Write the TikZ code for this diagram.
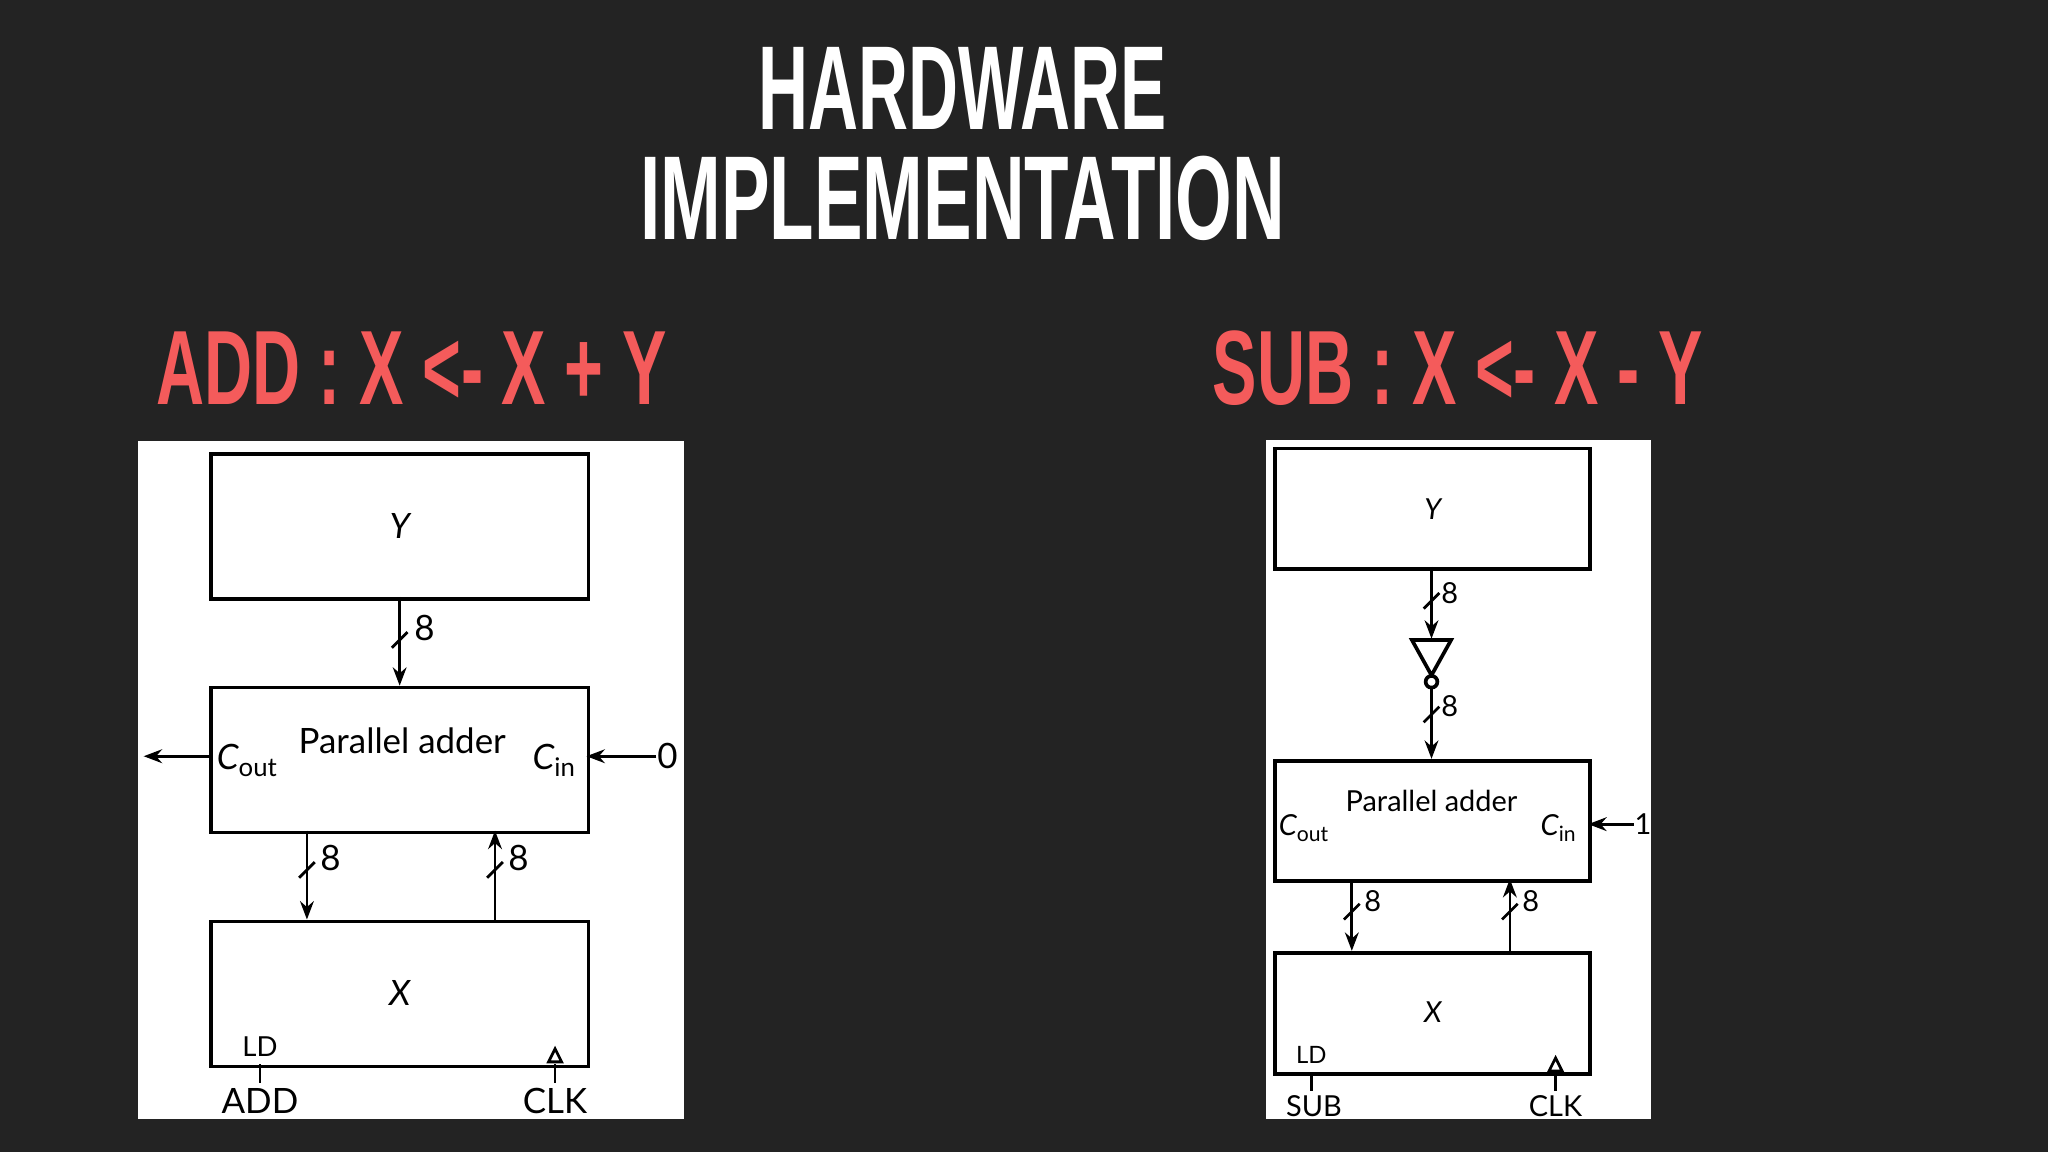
\documentclass[tikz,border=0pt]{standalone}
\usepackage{fontspec}
\setmainfont{Lato}
\newfontfamily\titlefont{Liberation Sans}
\usetikzlibrary{arrows.meta}
\definecolor{bg}{HTML}{232323}
\definecolor{hred}{HTML}{F45B5B}
\newcommand{\myCL}[1]{{\itshape C}\raisebox{-0.4ex}{\fontsize{5.6}{6}\selectfont #1}}
\newcommand{\myCR}[1]{{\itshape C}\raisebox{-0.4ex}{\fontsize{4.6}{5}\selectfont #1}}
\tikzset{
  box/.style={draw=black,line width=0.8pt,anchor=north west},
  wire/.style={draw=black,line width=0.6pt},
  arr/.style={wire,-{Stealth[length=4pt,width=3pt]}},
  slash/.style={wire},
  lblL/.style={font=\fontsize{7.6}{9}\selectfont,inner sep=0pt},
  lblR/.style={font=\fontsize{6.3}{8}\selectfont,inner sep=0pt},
  ttl/.style={text=white,inner sep=0pt,font=\titlefont\bfseries\fontsize{26}{28}\selectfont},
  red/.style={text=hred,inner sep=0pt,font=\titlefont\bfseries\fontsize{23}{26}\selectfont}
}
\begin{document}
\begin{tikzpicture}[x=0.01cm,y=-0.01cm]
\fill[bg] (0,0) rectangle (1568,882);
\useasboundingbox (0,0) rectangle (1568,882);
\node[ttl] (t1) at (737,68) {\scalebox{0.58}[1]{HARDWARE}};
\node[ttl] (t2) at (737,152) {\scalebox{0.61}[1]{IMPLEMENTATION}};
\node[red] (h1) at (315,282) {\scalebox{0.63}[1]{ADD : X <- X + Y}};
\node[red] (h2) at (1116,282) {\scalebox{0.63}[1]{SUB : X <- X - Y}};
% ---------- left panel
\fill[white] (106,338) rectangle (524,857);
\node[box,minimum width=2.89cm,minimum height=1.11cm] (y1) at (160,346) {};
\node[lblL] at (y1.center) {\itshape Y};
\node[box,minimum width=2.89cm,minimum height=1.11cm] (a1) at (160,525) {};
\node[lblL] at (308,567) {Parallel adder};
\node[lblL] at (189,582) {\myCL{out}};
\node[lblL] at (424,582) {\myCL{in}};
\node[box,minimum width=2.89cm,minimum height=1.11cm] (x1) at (160,704) {};
\node[lblL] at (306,760) {\itshape X};
\draw[arr] (306,457) -- (306,525);
\draw[slash] (300,496) -- (312,484); \node[lblL] at (325,481) {8};
\draw[arr] (160,579) -- (110,579);
\node[lblL] (z1) at (511,579) {0};
\draw[arr] (z1.west) -- (449,579);
\draw[arr] (235,636) -- (235,704);
\draw[slash] (229,672) -- (241,660); \node[lblL] at (253,657) {8};
\draw[arr] (379,704) -- (379,636);
\draw[slash] (373,672) -- (385,660); \node[lblL] at (397,657) {8};
\node[lblL,font=\fontsize{6}{8}\selectfont] at (199,801) {LD};
\draw[wire] (199,815) -- (199,829);
\node[lblL] at (199,843) {ADD};
\draw[wire] (425,815) -- (425,829);
\draw[wire,fill=white] (420,813) -- (425,803) -- (430,813) -- cycle;
\node[lblL] at (425,843) {CLK};
% ---------- right panel
\fill[white] (969,337) rectangle (1264,857);
\node[box,minimum width=2.41cm,minimum height=0.92cm] (y2) at (975,342) {};
\node[lblR] at (y2.center) {\itshape Y};
\draw[arr] (1096,434) -- (1096,489);
\draw[slash] (1090,466) -- (1102,454); \node[lblR] at (1110,454) {8};
\draw[wire,line width=0.8pt] (1081,490) -- (1111,490) -- (1096,517) -- cycle;
\draw[wire,fill=white,line width=0.8pt] (1096,522) circle (4.5);
\draw[arr] (1096,527) -- (1096,581);
\draw[slash] (1090,553) -- (1102,541); \node[lblR] at (1110,541) {8};
\node[box,minimum width=2.41cm,minimum height=0.92cm] (a2) at (975,581) {};
\node[lblR] at (1096,613) {Parallel adder};
\node[lblR] at (998,634) {\myCR{out}};
\node[lblR] at (1193,634) {\myCR{in}};
\node[lblR] (o2) at (1258,631) {1};
\draw[arr] (o2.west) -- (1216,631);
\draw[arr] (1035,673) -- (1035,728);
\draw[slash] (1029,704) -- (1041,692); \node[lblR] at (1051,690) {8};
\draw[arr] (1156,728) -- (1156,673);
\draw[slash] (1150,704) -- (1162,692); \node[lblR] at (1172,690) {8};
\node[box,minimum width=2.41cm,minimum height=0.93cm] (x2) at (975,728) {};
\node[lblR] at (1097,775) {\itshape X};
\node[lblR,font=\fontsize{5.2}{7}\selectfont] at (1004,808) {LD};
\draw[wire] (1004,821) -- (1004,835);
\node[lblR] at (1006,847) {SUB};
\draw[wire] (1191,821) -- (1191,835);
\draw[wire,fill=white] (1186,820) -- (1191,810) -- (1196,820) -- cycle;
\node[lblR] at (1191,847) {CLK};
\end{tikzpicture}
\end{document}
